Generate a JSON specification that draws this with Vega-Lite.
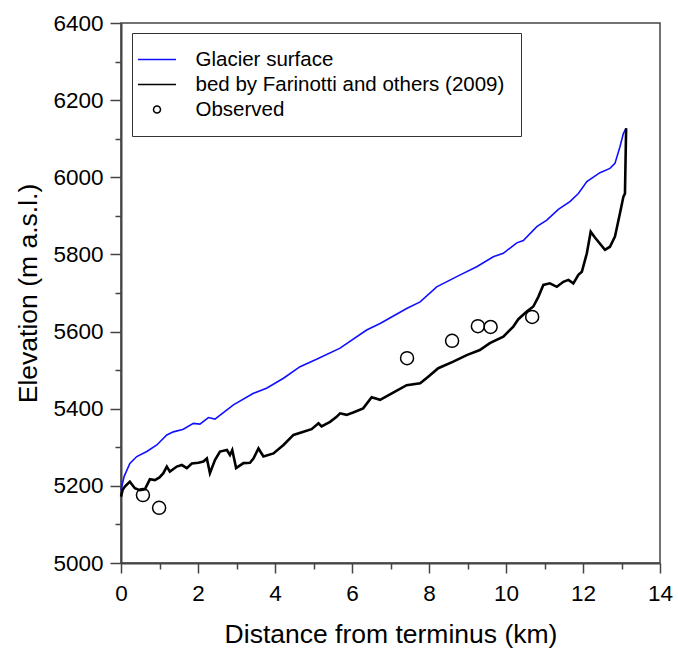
{
  "$schema": "https://vega.github.io/schema/vega-lite/v6.json",
  "autosize": {"type": "none"},
  "padding": {"left": 121, "top": 23, "right": 18, "bottom": 90},
  "width": 539,
  "height": 540,
  "background": "white",
  "config": {
    "font": "Liberation Sans",
    "view": {"stroke": "#444", "strokeWidth": 1.5},
    "axis": {
      "domainColor": "#444", "domainWidth": 2,
      "tickColor": "#444", "tickWidth": 1.5,
      "labelColor": "#000", "titleColor": "#000",
      "labelFont": "Liberation Sans", "titleFont": "Liberation Sans",
      "labelFontSize": 22.5, "titleFontSize": 26.5, "titleFontWeight": "normal",
      "grid": false
    },
    "legend": {
      "labelFont": "Liberation Sans", "labelFontSize": 20.5, "labelColor": "#000", "labelLimit": 500
    }
  },
  "datasets": {
    "lines": [
      {"series": "Glacier surface", "x": 0, "y": 5189},
      {"series": "Glacier surface", "x": 0.08, "y": 5224},
      {"series": "Glacier surface", "x": 0.23, "y": 5258},
      {"series": "Glacier surface", "x": 0.41, "y": 5276},
      {"series": "Glacier surface", "x": 0.67, "y": 5289},
      {"series": "Glacier surface", "x": 0.93, "y": 5306},
      {"series": "Glacier surface", "x": 1.19, "y": 5332},
      {"series": "Glacier surface", "x": 1.36, "y": 5340},
      {"series": "Glacier surface", "x": 1.62, "y": 5347},
      {"series": "Glacier surface", "x": 1.88, "y": 5362},
      {"series": "Glacier surface", "x": 2.05, "y": 5360},
      {"series": "Glacier surface", "x": 2.27, "y": 5377},
      {"series": "Glacier surface", "x": 2.44, "y": 5373},
      {"series": "Glacier surface", "x": 2.92, "y": 5410},
      {"series": "Glacier surface", "x": 3.44, "y": 5440},
      {"series": "Glacier surface", "x": 3.78, "y": 5453},
      {"series": "Glacier surface", "x": 4.22, "y": 5479},
      {"series": "Glacier surface", "x": 4.65, "y": 5509},
      {"series": "Glacier surface", "x": 5.08, "y": 5528},
      {"series": "Glacier surface", "x": 5.69, "y": 5557},
      {"series": "Glacier surface", "x": 6.38, "y": 5604},
      {"series": "Glacier surface", "x": 6.73, "y": 5621},
      {"series": "Glacier surface", "x": 7.42, "y": 5660},
      {"series": "Glacier surface", "x": 7.77, "y": 5677},
      {"series": "Glacier surface", "x": 8.2, "y": 5716},
      {"series": "Glacier surface", "x": 8.81, "y": 5747},
      {"series": "Glacier surface", "x": 9.24, "y": 5768},
      {"series": "Glacier surface", "x": 9.67, "y": 5794},
      {"series": "Glacier surface", "x": 9.93, "y": 5803},
      {"series": "Glacier surface", "x": 10.28, "y": 5830},
      {"series": "Glacier surface", "x": 10.45, "y": 5836},
      {"series": "Glacier surface", "x": 10.8, "y": 5872},
      {"series": "Glacier surface", "x": 11.06, "y": 5889},
      {"series": "Glacier surface", "x": 11.36, "y": 5917},
      {"series": "Glacier surface", "x": 11.66, "y": 5937},
      {"series": "Glacier surface", "x": 11.88, "y": 5958},
      {"series": "Glacier surface", "x": 12.1, "y": 5989},
      {"series": "Glacier surface", "x": 12.44, "y": 6012},
      {"series": "Glacier surface", "x": 12.7, "y": 6023},
      {"series": "Glacier surface", "x": 12.83, "y": 6036},
      {"series": "Glacier surface", "x": 12.96, "y": 6079},
      {"series": "Glacier surface", "x": 13.05, "y": 6114},
      {"series": "Glacier surface", "x": 13.12, "y": 6127},
      {"series": "bed by Farinotti and others (2009)", "x": 0, "y": 5172},
      {"series": "bed by Farinotti and others (2009)", "x": 0.04, "y": 5189},
      {"series": "bed by Farinotti and others (2009)", "x": 0.1, "y": 5198},
      {"series": "bed by Farinotti and others (2009)", "x": 0.23, "y": 5211},
      {"series": "bed by Farinotti and others (2009)", "x": 0.36, "y": 5194},
      {"series": "bed by Farinotti and others (2009)", "x": 0.49, "y": 5189},
      {"series": "bed by Farinotti and others (2009)", "x": 0.62, "y": 5191},
      {"series": "bed by Farinotti and others (2009)", "x": 0.75, "y": 5217},
      {"series": "bed by Farinotti and others (2009)", "x": 0.88, "y": 5215},
      {"series": "bed by Farinotti and others (2009)", "x": 1.0, "y": 5222},
      {"series": "bed by Farinotti and others (2009)", "x": 1.1, "y": 5233},
      {"series": "bed by Farinotti and others (2009)", "x": 1.19, "y": 5250},
      {"series": "bed by Farinotti and others (2009)", "x": 1.27, "y": 5237},
      {"series": "bed by Farinotti and others (2009)", "x": 1.45, "y": 5250},
      {"series": "bed by Farinotti and others (2009)", "x": 1.58, "y": 5254},
      {"series": "bed by Farinotti and others (2009)", "x": 1.71, "y": 5246},
      {"series": "bed by Farinotti and others (2009)", "x": 1.84, "y": 5258},
      {"series": "bed by Farinotti and others (2009)", "x": 2.01, "y": 5260},
      {"series": "bed by Farinotti and others (2009)", "x": 2.14, "y": 5263},
      {"series": "bed by Farinotti and others (2009)", "x": 2.23, "y": 5271},
      {"series": "bed by Farinotti and others (2009)", "x": 2.31, "y": 5233},
      {"series": "bed by Farinotti and others (2009)", "x": 2.44, "y": 5267},
      {"series": "bed by Farinotti and others (2009)", "x": 2.57, "y": 5289},
      {"series": "bed by Farinotti and others (2009)", "x": 2.75, "y": 5293},
      {"series": "bed by Farinotti and others (2009)", "x": 2.83, "y": 5280},
      {"series": "bed by Farinotti and others (2009)", "x": 2.89, "y": 5293},
      {"series": "bed by Farinotti and others (2009)", "x": 2.99, "y": 5246},
      {"series": "bed by Farinotti and others (2009)", "x": 3.18, "y": 5259},
      {"series": "bed by Farinotti and others (2009)", "x": 3.35, "y": 5260},
      {"series": "bed by Farinotti and others (2009)", "x": 3.44, "y": 5271},
      {"series": "bed by Farinotti and others (2009)", "x": 3.57, "y": 5297},
      {"series": "bed by Farinotti and others (2009)", "x": 3.7, "y": 5276},
      {"series": "bed by Farinotti and others (2009)", "x": 3.96, "y": 5284},
      {"series": "bed by Farinotti and others (2009)", "x": 4.22, "y": 5306},
      {"series": "bed by Farinotti and others (2009)", "x": 4.48, "y": 5332},
      {"series": "bed by Farinotti and others (2009)", "x": 4.74, "y": 5340},
      {"series": "bed by Farinotti and others (2009)", "x": 4.95, "y": 5347},
      {"series": "bed by Farinotti and others (2009)", "x": 5.13, "y": 5362},
      {"series": "bed by Farinotti and others (2009)", "x": 5.21, "y": 5354},
      {"series": "bed by Farinotti and others (2009)", "x": 5.43, "y": 5366},
      {"series": "bed by Farinotti and others (2009)", "x": 5.6, "y": 5379},
      {"series": "bed by Farinotti and others (2009)", "x": 5.69, "y": 5388},
      {"series": "bed by Farinotti and others (2009)", "x": 5.86, "y": 5384},
      {"series": "bed by Farinotti and others (2009)", "x": 6.03, "y": 5390},
      {"series": "bed by Farinotti and others (2009)", "x": 6.29, "y": 5401},
      {"series": "bed by Farinotti and others (2009)", "x": 6.51, "y": 5430},
      {"series": "bed by Farinotti and others (2009)", "x": 6.73, "y": 5423},
      {"series": "bed by Farinotti and others (2009)", "x": 7.07, "y": 5442},
      {"series": "bed by Farinotti and others (2009)", "x": 7.42, "y": 5461},
      {"series": "bed by Farinotti and others (2009)", "x": 7.77, "y": 5466},
      {"series": "bed by Farinotti and others (2009)", "x": 7.98, "y": 5483},
      {"series": "bed by Farinotti and others (2009)", "x": 8.24, "y": 5505},
      {"series": "bed by Farinotti and others (2009)", "x": 8.63, "y": 5522},
      {"series": "bed by Farinotti and others (2009)", "x": 8.98, "y": 5539},
      {"series": "bed by Farinotti and others (2009)", "x": 9.32, "y": 5552},
      {"series": "bed by Farinotti and others (2009)", "x": 9.58, "y": 5570},
      {"series": "bed by Farinotti and others (2009)", "x": 9.93, "y": 5587},
      {"series": "bed by Farinotti and others (2009)", "x": 10.19, "y": 5613},
      {"series": "bed by Farinotti and others (2009)", "x": 10.32, "y": 5632},
      {"series": "bed by Farinotti and others (2009)", "x": 10.54, "y": 5652},
      {"series": "bed by Farinotti and others (2009)", "x": 10.71, "y": 5665},
      {"series": "bed by Farinotti and others (2009)", "x": 10.84, "y": 5690},
      {"series": "bed by Farinotti and others (2009)", "x": 10.97, "y": 5721},
      {"series": "bed by Farinotti and others (2009)", "x": 11.14, "y": 5725},
      {"series": "bed by Farinotti and others (2009)", "x": 11.32, "y": 5716},
      {"series": "bed by Farinotti and others (2009)", "x": 11.49, "y": 5729},
      {"series": "bed by Farinotti and others (2009)", "x": 11.62, "y": 5734},
      {"series": "bed by Farinotti and others (2009)", "x": 11.75, "y": 5725},
      {"series": "bed by Farinotti and others (2009)", "x": 11.88, "y": 5747},
      {"series": "bed by Farinotti and others (2009)", "x": 11.97, "y": 5755},
      {"series": "bed by Farinotti and others (2009)", "x": 12.1, "y": 5803},
      {"series": "bed by Farinotti and others (2009)", "x": 12.2, "y": 5859},
      {"series": "bed by Farinotti and others (2009)", "x": 12.31, "y": 5844},
      {"series": "bed by Farinotti and others (2009)", "x": 12.57, "y": 5812},
      {"series": "bed by Farinotti and others (2009)", "x": 12.7, "y": 5820},
      {"series": "bed by Farinotti and others (2009)", "x": 12.83, "y": 5846},
      {"series": "bed by Farinotti and others (2009)", "x": 12.96, "y": 5907},
      {"series": "bed by Farinotti and others (2009)", "x": 13.05, "y": 5950},
      {"series": "bed by Farinotti and others (2009)", "x": 13.09, "y": 5958},
      {"series": "bed by Farinotti and others (2009)", "x": 13.12, "y": 6127}
    ],
    "observed": [
      {"series": "Observed", "x": 0.57, "y": 5176},
      {"series": "Observed", "x": 0.99, "y": 5143},
      {"series": "Observed", "x": 7.43, "y": 5531},
      {"series": "Observed", "x": 8.6, "y": 5576},
      {"series": "Observed", "x": 9.27, "y": 5614},
      {"series": "Observed", "x": 9.6, "y": 5612},
      {"series": "Observed", "x": 10.68, "y": 5638}
    ]
  },
  "encoding": {
    "x": {
      "field": "x", "type": "quantitative",
      "scale": {"domain": [0, 14], "nice": false, "zero": false},
      "axis": {
        "title": "Distance from terminus (km)",
        "values": [0, 1, 2, 3, 4, 5, 6, 7, 8, 9, 10, 11, 12, 13, 14],
        "labelExpr": "datum.value % 2 === 0 ? datum.label : ''",
        "labelFlush": false,
        "tickSize": {"condition": {"test": "datum.value % 2 !== 0", "value": 6}, "value": 10},
        "labelPadding": 9,
        "titlePadding": 17
      }
    },
    "y": {
      "field": "y", "type": "quantitative",
      "scale": {"domain": [5000, 6400], "nice": false, "zero": false},
      "axis": {
        "title": "Elevation (m a.s.l.)",
        "values": [5000, 5100, 5200, 5300, 5400, 5500, 5600, 5700, 5800, 5900, 6000, 6100, 6200, 6300, 6400],
        "format": "d",
        "labelExpr": "datum.value % 200 === 0 ? datum.label : ''",
        "labelFlush": false,
        "tickSize": {"condition": {"test": "datum.value % 200 !== 0", "value": 6}, "value": 11},
        "labelPadding": 7,
        "titlePadding": 10
      }
    }
  },
  "layer": [
    {
      "data": {"name": "lines"},
      "transform": [{"filter": "datum.series === 'Glacier surface'"}],
      "mark": {"type": "line", "strokeWidth": 1.6},
      "encoding": {
        "color": {
          "field": "series", "type": "nominal",
          "scale": {
            "domain": ["Glacier surface", "bed by Farinotti and others (2009)", "Observed"],
            "range": ["#1010ff", "#000000", "#000000"]
          },
          "legend": {
            "title": null, "orient": "none", "legendX": 11, "legendY": 10,
            "padding": 16, "rowPadding": 4, "symbolSize": 361,
            "symbolOffset": -1.5, "labelOffset": 28, "symbolStrokeWidth": 1.5,
            "strokeColor": "#333", "labelLimit": 500
          }
        }
      }
    },
    {
      "data": {"name": "lines"},
      "transform": [{"filter": "datum.series !== 'Glacier surface'"}],
      "mark": {"type": "line", "strokeWidth": 2.6},
      "encoding": {
        "color": {"field": "series", "type": "nominal"}
      }
    },
    {
      "data": {"name": "observed"},
      "mark": {"type": "point", "filled": false, "size": 1234, "strokeWidth": 1.5, "opacity": 1},
      "encoding": {
        "color": {"field": "series", "type": "nominal"},
        "shape": {
          "field": "series", "type": "nominal",
          "scale": {
            "domain": ["Glacier surface", "bed by Farinotti and others (2009)", "Observed"],
            "range": ["M-2,0L2,0", "M-2,0L2,0", "M-0.37,0A0.37,0.37 0 1,0 0.37,0A0.37,0.37 0 1,0 -0.37,0"]
          },
          "legend": {
            "title": null, "orient": "none", "legendX": 11, "legendY": 10,
            "padding": 16, "rowPadding": 4, "symbolSize": 361,
            "symbolOffset": -1.5, "labelOffset": 28, "symbolStrokeWidth": 1.5,
            "strokeColor": "#333", "labelLimit": 500
          }
        }
      }
    }
  ]
}
